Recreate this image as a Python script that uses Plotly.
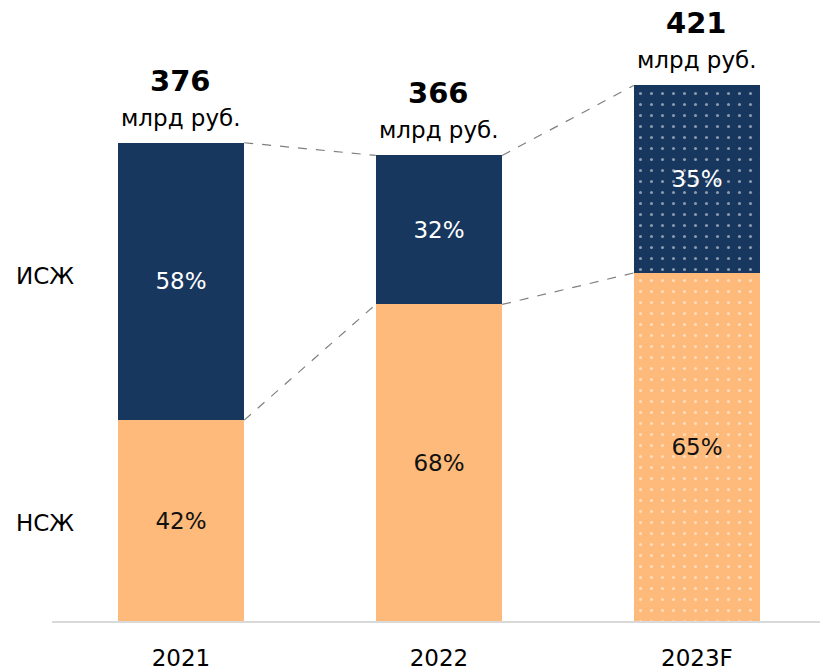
import plotly.graph_objects as go

categories = ["2021", "2022", "2023F"]
totals = [376, 366, 421]
nsj_pct = [42, 68, 65]
isj_pct = [58, 32, 35]
forecast = [False, False, True]

NAVY = "#17375F"
ORANGE = "#FDBA7A"
FONT = "DejaVu Sans"

xs = list(range(len(categories)))
nsj_vals = [t * p / 100 for t, p in zip(totals, nsj_pct)]
isj_vals = [t * p / 100 for t, p in zip(totals, isj_pct)]
W = 0.49

def patterns():
    shapes = ["." if f else "" for f in forecast]
    return dict(shape=shapes, fgcolor="white", fillmode="overlay", size=11, solidity=0.06)

fig = go.Figure()
fig.add_trace(go.Bar(
    x=xs, y=nsj_vals, width=W, name="НСЖ",
    marker=dict(color=ORANGE, line=dict(width=0), pattern=patterns()),
    text=[f"{p}%" for p in nsj_pct], textposition="inside", insidetextanchor="middle",
    textfont=dict(color="#111111", size=23, family=FONT), textangle=0,
))
fig.add_trace(go.Bar(
    x=xs, y=isj_vals, width=W, name="ИСЖ",
    marker=dict(color=NAVY, line=dict(width=0), pattern=patterns()),
    text=[f"{p}%" for p in isj_pct], textposition="inside", insidetextanchor="middle",
    textfont=dict(color="white", size=23, family=FONT), textangle=0,
))

shapes = []
for i in range(len(xs) - 1):
    for ya, yb in [(totals[i], totals[i + 1]), (nsj_vals[i], nsj_vals[i + 1])]:
        shapes.append(dict(type="line", xref="x", yref="y",
                           x0=xs[i] + W / 2, y0=ya, x1=xs[i + 1] - W / 2, y1=yb,
                           line=dict(color="#7F7F7F", width=1.2, dash="dash")))

annotations = []
for i, t in enumerate(totals):
    annotations.append(dict(x=xs[i], y=t, xref="x", yref="y", text=f"<b>{t}</b>",
                            showarrow=False, yanchor="middle", yshift=62,
                            font=dict(size=29, color="#000000", family=FONT)))
    annotations.append(dict(x=xs[i], y=t, xref="x", yref="y", text="млрд руб.",
                            showarrow=False, yanchor="middle", yshift=25,
                            font=dict(size=23, color="#000000", family=FONT)))

annotations.append(dict(x=-0.009, y=271, xref="paper", yref="y", text="ИСЖ", showarrow=False,
                        xanchor="center", font=dict(size=23, color="#000000", family=FONT)))
annotations.append(dict(x=-0.009, y=77, xref="paper", yref="y", text="НСЖ", showarrow=False,
                        xanchor="center", font=dict(size=23, color="#000000", family=FONT)))

fig.update_layout(
    width=820, height=670,
    margin=dict(l=52, r=0, t=0, b=49),
    plot_bgcolor="white", paper_bgcolor="white",
    barmode="stack", showlegend=False,
    shapes=shapes, annotations=annotations,
    font=dict(family=FONT, color="#000000"),
)
fig.update_xaxes(range=[-0.5, 2.477], tickvals=xs, ticktext=categories, automargin=False,
                 showgrid=False, zeroline=False, showline=True, linecolor="#D9D9D9", linewidth=2,
                 ticks="", tickfont=dict(size=23, family=FONT, color="#000000"), ticklabelstandoff=15)
fig.update_yaxes(range=[0, 621 / 1.272], visible=False, showgrid=False, zeroline=False, automargin=False)

fig.write_html("out.html", config={"displayModeBar": False},
               post_script="document.body.style.margin='0';document.body.style.overflow='hidden';")
